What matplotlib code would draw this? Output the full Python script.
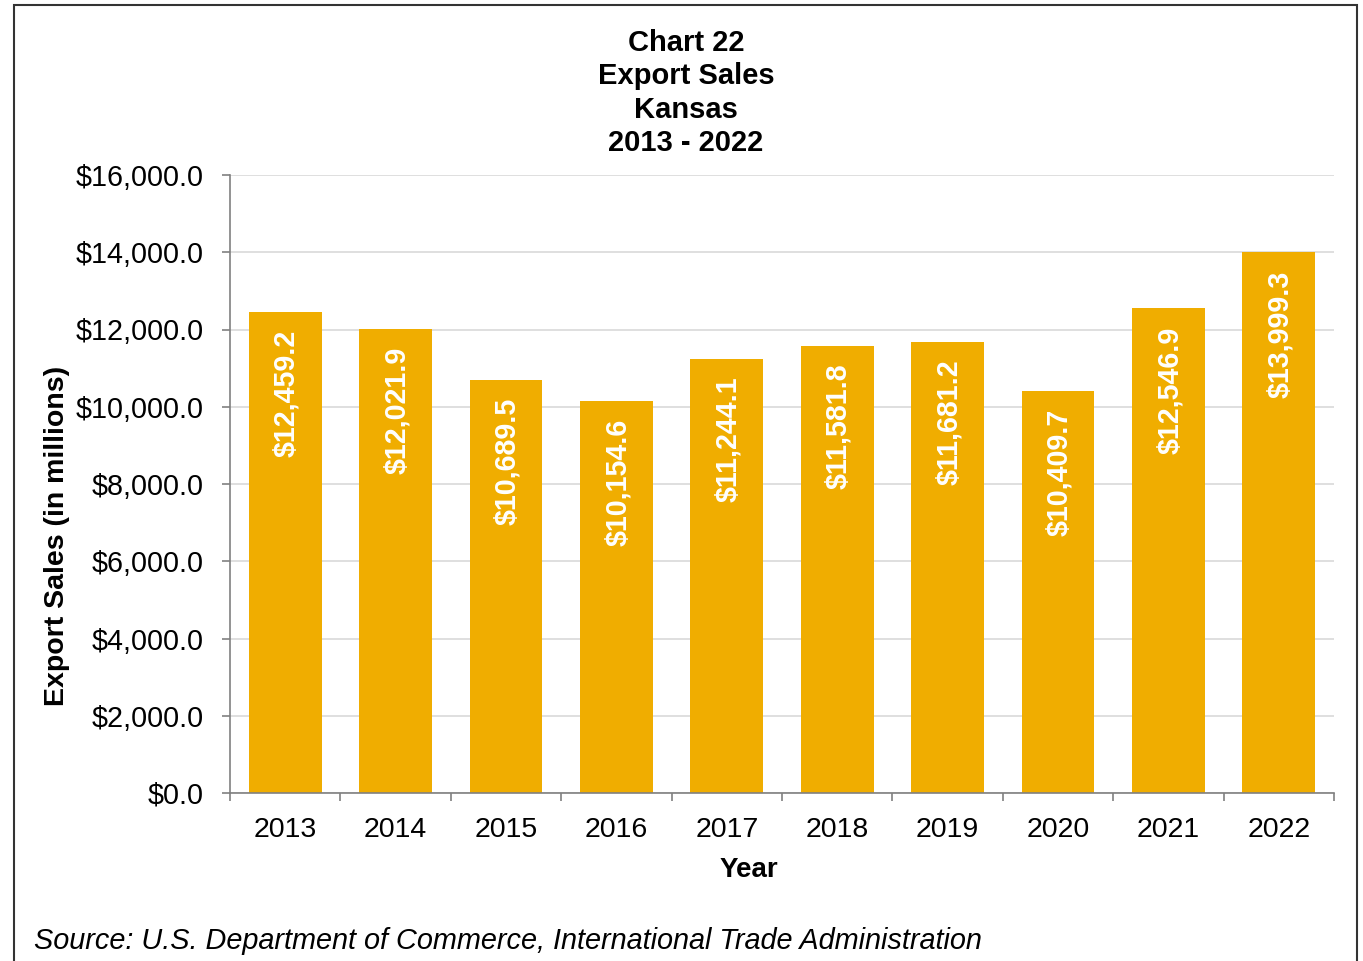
import numpy as np
import matplotlib
matplotlib.use("Agg")
import matplotlib.pyplot as plt
from matplotlib.patches import Rectangle
from matplotlib.ticker import FuncFormatter, FixedLocator

plt.rcParams['font.family'] = ['Liberation Sans', 'DejaVu Sans']

years = ['2013', '2014', '2015', '2016', '2017', '2018', '2019', '2020', '2021', '2022']
sales = [12459.2, 12021.9, 10689.5, 10154.6, 11244.1, 11581.8, 11681.2, 10409.7, 12546.9, 13999.3]

bar_color = '#F0AD00'
W, H = 1363, 961

fig = plt.figure(figsize=(W / 100, H / 100), dpi=100)
ax = fig.add_axes([230 / W, 1 - 793 / H, (1334 - 230) / W, (793 - 175) / H])

x = np.arange(len(years))
bars = ax.bar(x, sales, width=0.66, color=bar_color, zorder=2)

for xi, v in zip(x, sales):
    ax.annotate(f'${v:,.1f}', xy=(xi, v), xytext=(1, -13), textcoords='offset points',
                rotation=90, ha='center', va='top', color='white',
                fontsize=20.6, fontweight='bold')

ax.set_xlim(-0.5, len(years) - 0.5)
ax.set_ylim(0, 16000)
ax.set_yticks(np.arange(0, 16001, 2000))
ax.yaxis.set_major_formatter(FuncFormatter(lambda v, p: f'${v:,.1f}'))
ax.grid(axis='y', color='#D9D9D9', linewidth=1.2, zorder=0)

# boundary ticks between categories, labels on the centres
ax.xaxis.set_major_locator(FixedLocator(np.arange(-0.5, len(years), 1.0)))
ax.xaxis.set_minor_locator(FixedLocator(x))
ax.set_xticklabels([], minor=False)
ax.set_xticklabels(years, minor=True)
ax.tick_params(axis='x', which='major', length=6, width=1.2, color='#808080', direction='out')
ax.tick_params(axis='x', which='minor', length=0, pad=17, labelsize=20.5)
ax.tick_params(axis='y', length=6, width=1.2, color='#808080', pad=13, labelsize=20.7)

for side in ['top', 'right']:
    ax.spines[side].set_visible(False)
for side in ['left', 'bottom']:
    ax.spines[side].set_color('#808080')
    ax.spines[side].set_linewidth(1.2)

fig.text(686 / W, 1 - 93 / H, 'Chart 22\nExport Sales\nKansas\n2013 - 2022',
         ha='center', va='center', fontsize=21, fontweight='bold', linespacing=1.25)
fig.text(57 / W, 1 - 536 / H, 'Export Sales (in millions)', rotation=90,
         ha='center', va='center', fontsize=20.5, fontweight='bold')
fig.text(749 / W, 1 - 870 / H, 'Year', ha='center', va='center',
         fontsize=20, fontweight='bold')
fig.text(34 / W, 1 - 941 / H,
         'Source: U.S. Department of Commerce, International Trade Administration',
         ha='left', va='center', fontsize=20.8, style='italic')

fig.patches.append(Rectangle((14 / W, -0.05), (1357 - 14) / W, 1 - 5 / H + 0.05,
                             transform=fig.transFigure, fill=False,
                             edgecolor='#333333', linewidth=1.5))

fig.savefig('out.png', dpi=100)
